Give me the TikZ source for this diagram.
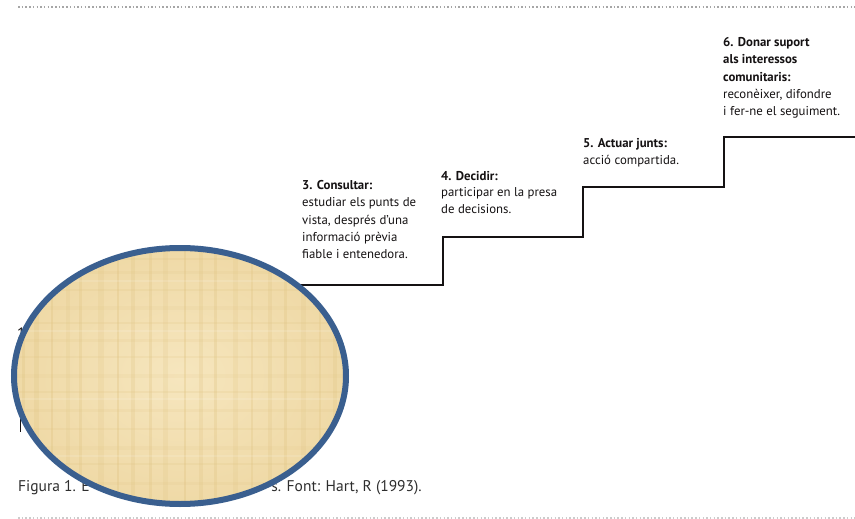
\documentclass[tikz,border=0pt]{standalone}
\usepackage{fontspec}
\setmainfont{PT Sans}
\usetikzlibrary{shapes.geometric}
\definecolor{txt}{HTML}{151213}
\definecolor{capt}{HTML}{2E2E2E}
\definecolor{rim}{HTML}{3A5F8F}
\definecolor{papyrus}{HTML}{EFD9A6}
\definecolor{papyrusB}{HTML}{E0C483}
\definecolor{papyrusC}{HTML}{F6E6BE}
\begin{document}
\begin{tikzpicture}[x=1pt,y=-1pt,
  steptext/.style={anchor=north west, inner sep=0pt, align=left, text=txt,
    font=\fontsize{12.8}{17.4}\selectfont},
  stairline/.style={draw=txt, line width=1.1pt},
  dotline/.style={draw=gray!70, line width=1.2pt, dash pattern=on 1.5pt off 2.2pt},
  captext/.style={anchor=base west, inner sep=0pt, text=capt, font=\fontsize{15.5}{18}\selectfont}]
\useasboundingbox (0,0) rectangle (855,519);
\fill[white] (0,0) rectangle (855,519);
% dotted rules
\coordinate (t1) at (18,7); \coordinate (t2) at (855,7);
\coordinate (b1) at (18,518); \coordinate (b2) at (855,518);
\draw[dotline] (t1) -- (t2);
\draw[dotline, draw=gray!40] (b1) -- (b2);
% staircase
\coordinate (s0) at (260,285);
\coordinate (s1) at (443,285);
\coordinate (s2) at (443,237);
\coordinate (s3) at (583,237);
\coordinate (s4) at (583,187);
\coordinate (s5) at (724,187);
\coordinate (s6) at (724,137);
\coordinate (s7) at (856,137);
\draw[stairline] (s0) -- (s1) -- (s2) -- (s3) -- (s4) -- (s5) -- (s6) -- (s7);
% step texts
\node[steptext] (n3) at (302,180) {\textbf{3. Consultar:}\\estudiar els punts de\\vista, després d’una\\informació prèvia\\fiable i entenedora.};
\node[steptext, font=\fontsize{12.8}{16.6}\selectfont] (n4) at (441,171) {\textbf{4. Decidir:}\\participar en la presa\\de decisions.};
\node[steptext] (n5) at (583,138) {\textbf{5. Actuar junts:}\\acció compartida.};
\node[steptext] (n6) at (723,37) {\textbf{6. Donar suport}\\\textbf{als interessos}\\\textbf{comunitaris:}\\reconèixer, difondre\\i fer-ne el seguiment.};
% hidden fragments
\node[anchor=base west, inner sep=0pt, text=txt, font=\fontsize{15}{18}\selectfont] (one) at (17,338) {1};
\coordinate (v1) at (20,385); \coordinate (v2) at (20,432);
\draw[txt, line width=0.9pt] (v1) -- (v2);
% caption
\node[captext] (cap1) at (18,491) {Figura 1. E};
\node[captext, anchor=base east] (cap2) at (422,491) {s. Font: Hart, R (1993).};
% ellipse
\node[ellipse, minimum width=334pt, minimum height=258pt, inner sep=0pt,
  draw=rim, line width=4pt, inner color=papyrusC, outer color=papyrus] (oval) at (180,376) {};
\begin{scope}
  \clip (180,376) ellipse [x radius=165pt, y radius=127pt];
  \foreach \x/\w/\o in {22/3/0.3,34/5/0.25,51/2/0.35,66/4/0.2,79/3/0.3,98/6/0.2,117/2/0.35,
      131/4/0.25,149/3/0.3,163/5/0.2,184/2/0.35,199/4/0.25,214/3/0.3,233/5/0.2,
      251/2/0.3,268/4/0.25,284/3/0.3,301/5/0.2,319/2/0.3,333/4/0.25}
    \fill[papyrusB, opacity=\o] (\x,240) rectangle ++(\w,270);
  \foreach \y/\h/\o in {258/2/0.2,271/3/0.15,289/2/0.2,306/4/0.12,322/2/0.2,339/3/0.15,
      356/2/0.18,374/4/0.12,391/2/0.2,409/3/0.15,428/2/0.18,446/4/0.12,463/2/0.2,482/3/0.15}
    \fill[papyrusB, opacity=\o] (0,\y) rectangle ++(360,\h);
  \foreach \y in {280,330,398,455}
    \fill[white, opacity=0.12] (0,\y) rectangle ++(360,2);
\end{scope}
\draw[rim, line width=4pt] (oval.center) ellipse [x radius=165pt, y radius=127pt];
\end{tikzpicture}
\end{document}
